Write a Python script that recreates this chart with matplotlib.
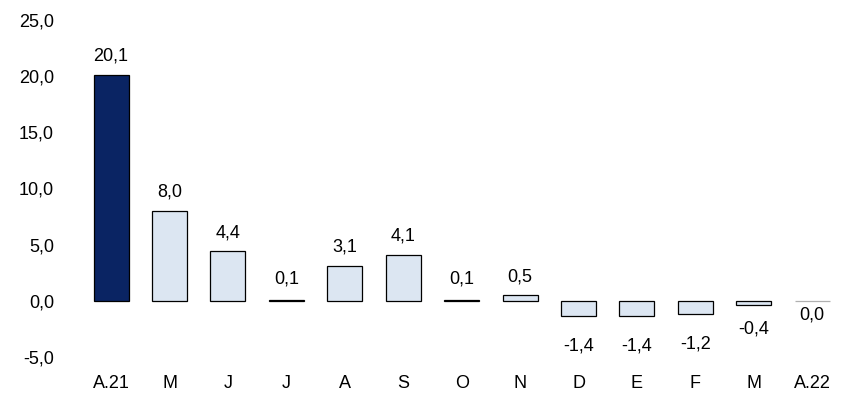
import matplotlib.pyplot as plt

plt.rcParams['font.family'] = ['Liberation Sans', 'DejaVu Sans']

labels = ["A.21", "M", "J", "J", "A", "S", "O", "N", "D", "E", "F", "M", "A.22"]
values = [20.1, 8.0, 4.4, 0.1, 3.1, 4.1, 0.1, 0.5, -1.4, -1.4, -1.2, -0.4, 0.0]

fig = plt.figure(figsize=(8.44, 4.01), dpi=100)
ax = fig.add_axes([0.097, 0.11, 0.9, 0.84])

colors = ["#0a2463"] + ["#dce6f2"] * (len(values) - 1)
edges = ["black"] * (len(values) - 1) + ["#b0b0b0"]
x = range(len(values))
ax.bar(x, values, width=0.6, color=colors, edgecolor=edges, linewidth=0.9)

for i, v in enumerate(values):
    txt = f"{v:.1f}".replace(".", ",")
    if v < -1:
        ax.text(i, v - 1.9, txt, ha="center", va="top", fontsize=13)
    elif v < 0:
        ax.text(i, v - 1.4, txt, ha="center", va="top", fontsize=13)
    elif v == 0:
        ax.text(i, -0.5, txt, ha="center", va="top", fontsize=13)
    else:
        ax.text(i, max(v, 0.3) + 0.9, txt, ha="center", va="bottom", fontsize=13)

ax.set_xlim(-0.5, len(values) - 0.5)
ax.set_ylim(-5, 25)
yt = [-5, 0, 5, 10, 15, 20, 25]
ax.set_yticks(yt)
ax.set_yticklabels([f"{t:.1f}".replace(".", ",") for t in yt], fontsize=13)
ax.set_xticks(list(x))
ax.set_xticklabels(labels, fontsize=13)
ax.tick_params(axis="x", length=0, pad=13)
ax.tick_params(axis="y", length=0, pad=20)
for s in ax.spines.values():
    s.set_visible(False)

fig.savefig("out.png", dpi=100)
